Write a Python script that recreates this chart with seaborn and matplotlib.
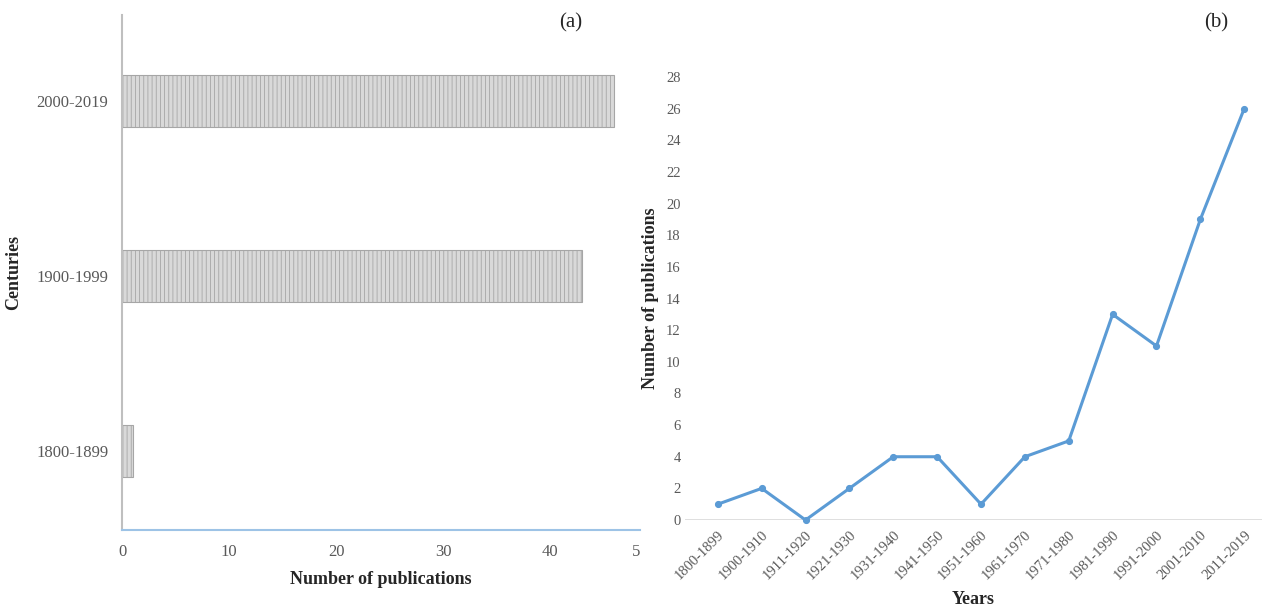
import seaborn as sns
import matplotlib.pyplot as plt

# panel (a): publications per century
centuries = ['2000-2019', '1900-1999', '1800-1899']
century_counts = [46, 43, 1]
x_ticks = [0, 10, 20, 30, 40, 48]
x_tick_labels = ['0', '10', '20', '30', '40', '5']  # last label is clipped in the source

# panel (b): publications per period
periods = ['1800-1899', '1900-1910', '1911-1920', '1921-1930', '1931-1940',
           '1941-1950', '1951-1960', '1961-1970', '1971-1980', '1981-1990',
           '1991-2000', '2001-2010', '2011-2019']
period_counts = [1, 2, 0, 2, 4, 4, 1, 4, 5, 13, 11, 19, 26]
y_ticks = list(range(0, 30, 2))

sns.set_style('white')
plt.rcParams['font.family'] = ['Liberation Serif', 'DejaVu Serif']
plt.rcParams['hatch.color'] = '#a0a0a0'
plt.rcParams['hatch.linewidth'] = 0.6

fig = plt.figure(figsize=(12.66, 6.16), dpi=100)
tick_col = '#595959'

# ---- left panel
ax1 = fig.add_axes([0.0964, 0.1396, 0.4091, 0.836])
sns.barplot(x=century_counts, y=centuries, order=centuries, orient='h',
            color='#d9d9d9', edgecolor='#a6a6a6', hatch='||||', linewidth=0.8,
            width=0.3, ax=ax1)
ax1.set_xticks(x_ticks)
ax1.set_xticklabels(x_tick_labels)
ax1.set_xlim(0, 48.4)
ax1.set_ylim(2.45, -0.49)
for s in ['top', 'right']:
    ax1.spines[s].set_visible(False)
ax1.spines['left'].set_color('#bfbfbf')
ax1.spines['left'].set_linewidth(1.5)
ax1.spines['bottom'].set_color('#9dc3e6')
ax1.spines['bottom'].set_linewidth(1.5)
ax1.tick_params(axis='both', length=0, labelsize=12, labelcolor=tick_col)
ax1.tick_params(axis='x', pad=10)
ax1.tick_params(axis='y', pad=10)
ax1.set_xlabel('Number of publications', fontsize=13, fontweight='bold', labelpad=8)
ax1.set_ylabel('Centuries', fontsize=13, fontweight='bold', labelpad=10)
fig.text(0.442, 0.963, '(a)', fontsize=15, ha='left', va='center')

# ---- right panel
ax2 = fig.add_axes([0.541, 0.1558, 0.456, 0.7192])
sns.pointplot(x=periods, y=period_counts, color='#5b9bd5', markers='o',
              markersize=3.5, linewidth=2.2, ax=ax2)
for c in ax2.collections + ax2.lines:
    c.set_clip_on(False)
ax2.set_xlim(-0.75, 12.41)
ax2.set_ylim(0, 28)
ax2.set_yticks(y_ticks)
ax2.axhline(0, color='#d9d9d9', linewidth=1.2, zorder=0)
sns.despine(ax=ax2, left=True, bottom=True)
ax2.tick_params(axis='both', length=0, labelsize=10.5, labelcolor=tick_col)
ax2.tick_params(axis='y', pad=3)
ax2.tick_params(axis='x', pad=6)
plt.setp(ax2.get_xticklabels(), rotation=45, ha='right', rotation_mode='anchor')
ax2.set_xlabel('Years', fontsize=13, fontweight='bold', labelpad=6)
ax2.set_ylabel('Number of publications', fontsize=13, fontweight='bold', labelpad=5)
fig.text(0.951, 0.963, '(b)', fontsize=15, ha='left', va='center')

fig.savefig('out.png', dpi=100)
